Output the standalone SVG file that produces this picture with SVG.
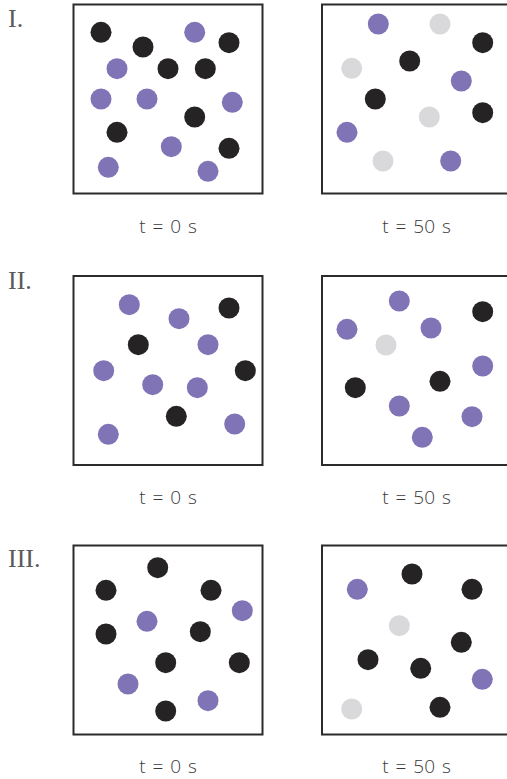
<svg xmlns="http://www.w3.org/2000/svg" width="507" height="779" viewBox="0 0 507 779">
<style>
.box{fill:#fff;stroke:#2b2b2b;stroke-width:2}
.k{fill:#252324}
.p{fill:#8174b6}
.g{fill:#d9d9db}
.num{font-family:"Liberation Serif","DejaVu Serif",serif;font-size:26px;fill:#5a5a5a}
.lab{font-family:"Open Sans","Liberation Sans",sans-serif;font-size:19px;fill:#3a3a3a;text-anchor:middle;font-weight:300;word-spacing:2px}
</style>
<rect width="507" height="779" fill="#fff"/>
<g id="row1">
<text class="num" x="8" y="26.5">I.</text>
<g id="p1a">
<rect class="box" x="73.5" y="4.5" width="189" height="189"/>
<circle class="k" cx="101" cy="32.3" r="10.5"/>
<circle class="k" cx="143" cy="47" r="10.5"/>
<circle class="k" cx="229" cy="42.7" r="10.5"/>
<circle class="k" cx="168" cy="68.7" r="10.5"/>
<circle class="k" cx="205.3" cy="68.7" r="10.5"/>
<circle class="k" cx="194.7" cy="117" r="10.5"/>
<circle class="k" cx="117" cy="132.3" r="10.5"/>
<circle class="k" cx="229" cy="148.3" r="10.5"/>
<circle class="p" cx="194.7" cy="32.3" r="10.5"/>
<circle class="p" cx="117" cy="68.7" r="10.5"/>
<circle class="p" cx="101" cy="99" r="10.5"/>
<circle class="p" cx="147" cy="99" r="10.5"/>
<circle class="p" cx="232.3" cy="102.3" r="10.5"/>
<circle class="p" cx="171.3" cy="146.7" r="10.5"/>
<circle class="p" cx="108.3" cy="167.3" r="10.5"/>
<circle class="p" cx="208" cy="171.3" r="10.5"/>
<text class="lab" x="168" y="233">t = 0 s</text>
</g>
<g id="p1b">
<rect class="box" x="322" y="4.5" width="189" height="189"/>
<circle class="p" cx="378.3" cy="24" r="10.5"/>
<circle class="p" cx="461.3" cy="81" r="10.5"/>
<circle class="p" cx="347" cy="132.3" r="10.5"/>
<circle class="p" cx="450.7" cy="161" r="10.5"/>
<circle class="g" cx="440" cy="24" r="10.5"/>
<circle class="g" cx="351.7" cy="68.3" r="10.5"/>
<circle class="g" cx="429.3" cy="117" r="10.5"/>
<circle class="g" cx="383" cy="161" r="10.5"/>
<circle class="k" cx="482.7" cy="42.7" r="10.5"/>
<circle class="k" cx="409.7" cy="61" r="10.5"/>
<circle class="k" cx="375.3" cy="99" r="10.5"/>
<circle class="k" cx="482.7" cy="112.7" r="10.5"/>
<text class="lab" x="416.5" y="233">t = 50 s</text>
</g>
</g>
<g id="row2">
<text class="num" x="8" y="288.5">II.</text>
<g id="p2a">
<rect class="box" x="73.5" y="276" width="189" height="189"/>
<circle class="p" cx="129.3" cy="304.7" r="10.5"/>
<circle class="p" cx="179" cy="318.7" r="10.5"/>
<circle class="p" cx="208" cy="344.7" r="10.5"/>
<circle class="p" cx="103.7" cy="370.7" r="10.5"/>
<circle class="p" cx="152.7" cy="384.7" r="10.5"/>
<circle class="p" cx="197.3" cy="387.7" r="10.5"/>
<circle class="p" cx="234.7" cy="424" r="10.5"/>
<circle class="p" cx="108.3" cy="434.3" r="10.5"/>
<circle class="k" cx="229" cy="308" r="10.5"/>
<circle class="k" cx="138.3" cy="344.7" r="10.5"/>
<circle class="k" cx="245.3" cy="370.7" r="10.5"/>
<circle class="k" cx="176.3" cy="416.3" r="10.5"/>
<text class="lab" x="168" y="504">t = 0 s</text>
</g>
<g id="p2b">
<rect class="box" x="322" y="276" width="189" height="189"/>
<circle class="p" cx="399.3" cy="301" r="10.5"/>
<circle class="p" cx="347" cy="329.3" r="10.5"/>
<circle class="p" cx="431" cy="328" r="10.5"/>
<circle class="p" cx="482.7" cy="366" r="10.5"/>
<circle class="p" cx="399.3" cy="406" r="10.5"/>
<circle class="p" cx="472" cy="416.7" r="10.5"/>
<circle class="p" cx="422.3" cy="437.3" r="10.5"/>
<circle class="g" cx="386" cy="345" r="10.5"/>
<circle class="k" cx="482.7" cy="311.7" r="10.5"/>
<circle class="k" cx="355.3" cy="387.7" r="10.5"/>
<circle class="k" cx="440" cy="381.3" r="10.5"/>
<text class="lab" x="416.5" y="504">t = 50 s</text>
</g>
</g>
<g id="row3">
<text class="num" x="8" y="566.5">III.</text>
<g id="p3a">
<rect class="box" x="73.5" y="545.5" width="189" height="189"/>
<circle class="k" cx="157.7" cy="567.7" r="10.5"/>
<circle class="k" cx="106" cy="590.3" r="10.5"/>
<circle class="k" cx="211" cy="590.3" r="10.5"/>
<circle class="k" cx="106" cy="634" r="10.5"/>
<circle class="k" cx="200.3" cy="631.7" r="10.5"/>
<circle class="k" cx="165.7" cy="662.7" r="10.5"/>
<circle class="k" cx="239.3" cy="662.7" r="10.5"/>
<circle class="k" cx="165.7" cy="711" r="10.5"/>
<circle class="p" cx="242.3" cy="610.7" r="10.5"/>
<circle class="p" cx="147" cy="621.3" r="10.5"/>
<circle class="p" cx="128" cy="684" r="10.5"/>
<circle class="p" cx="208" cy="700.7" r="10.5"/>
<text class="lab" x="168" y="773">t = 0 s</text>
</g>
<g id="p3b">
<rect class="box" x="322" y="545.5" width="189" height="189"/>
<circle class="p" cx="357.3" cy="589.3" r="10.5"/>
<circle class="p" cx="482.3" cy="679.3" r="10.5"/>
<circle class="k" cx="412" cy="574" r="10.5"/>
<circle class="k" cx="472" cy="589.3" r="10.5"/>
<circle class="k" cx="461.3" cy="642.3" r="10.5"/>
<circle class="k" cx="368" cy="659.7" r="10.5"/>
<circle class="k" cx="420.7" cy="668.3" r="10.5"/>
<circle class="k" cx="440" cy="707.3" r="10.5"/>
<circle class="g" cx="399.3" cy="625.7" r="10.5"/>
<circle class="g" cx="351.7" cy="709" r="10.5"/>
<text class="lab" x="416.5" y="773">t = 50 s</text>
</g>
</g>
</svg>
